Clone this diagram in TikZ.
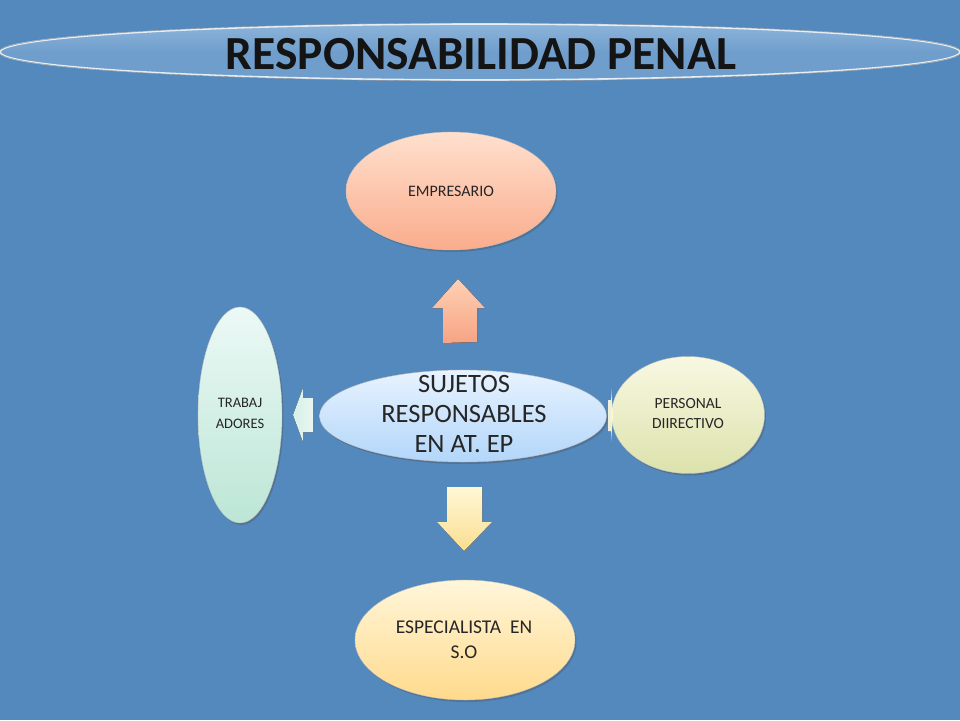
\documentclass[tikz,border=0pt]{standalone}
\usepackage{fontspec}
\setmainfont{Carlito}
\usetikzlibrary{shapes.geometric,shadows}
\definecolor{bg}{RGB}{84,137,189}
\definecolor{titlefill}{RGB}{112,158,204}
\tikzset{
  bubble/.style={ellipse, inner sep=0pt, draw=black!25, line width=0.4pt,
    drop shadow={shadow xshift=1.5pt, shadow yshift=-2pt, opacity=0.35, fill=black!70}},
  lbl/.style={align=center, text=black!85, inner sep=0pt},
}
\begin{document}
\begin{tikzpicture}[x=1pt,y=-1pt]
\useasboundingbox (0,0) rectangle (960,720);
\fill[bg] (0,0) rectangle (960,720);
% title
\node[ellipse, minimum width=960pt, minimum height=56pt, inner sep=0pt,
  top color={rgb,255:red,140;green,180;blue,218}, bottom color=titlefill, middle color=titlefill,
  draw=white!85!bg, line width=1.8pt] (title) at (480,52) {};
\draw[black!45, line width=0.4pt] (title.center) ellipse [x radius=481, y radius=29];
\node[font=\fontsize{47.5}{50}\selectfont\bfseries, text=black!92] (titletext) at (481,54) {RESPONSABILIDAD PENAL};
% bubbles
\node[bubble, minimum width=210pt, minimum height=118pt,
  top color={rgb,255:red,255;green,224;blue,206}, bottom color={rgb,255:red,250;green,172;blue,140}] (emp) at (451,191) {};
\node[lbl, font=\fontsize{16}{20}\selectfont] (empt) at (emp.center) {EMPRESARIO};
\node[bubble, minimum width=287pt, minimum height=92pt,
  top color={rgb,255:red,232;green,243;blue,255}, bottom color={rgb,255:red,178;green,214;blue,250}] (suj) at (463,416) {};
\node[lbl, font=\fontsize{26.5}{30}\selectfont] (sujt) at (464,414) {SUJETOS\\RESPONSABLES\\EN AT. EP};
\node[bubble, minimum width=84pt, minimum height=216pt,
  top color={rgb,255:red,236;green,249;blue,246}, bottom color={rgb,255:red,188;green,230;blue,214}] (trab) at (240,415) {};
\node[lbl, font=\fontsize{14.5}{21}\selectfont] (trabt) at (240,413) {TRABAJ\\ADORES};
\node[bubble, minimum width=153pt, minimum height=117pt,
  top color={rgb,255:red,248;green,248;blue,226}, bottom color={rgb,255:red,220;green,226;blue,172}] (pers) at (688,415) {};
\node[lbl, font=\fontsize{15.5}{20}\selectfont] (perst) at (688,414) {PERSONAL\\DIIRECTIVO};
\node[bubble, minimum width=220pt, minimum height=120pt,
  top color={rgb,255:red,255;green,246;blue,218}, bottom color={rgb,255:red,255;green,218;blue,140}] (esp) at (465,640) {};
\node[lbl, font=\fontsize{19.5}{25}\selectfont] (espt) at (464,640) {ESPECIALISTA\ \ EN\\S.O};
% arrows
\fill[drop shadow={shadow xshift=1pt, shadow yshift=-1.5pt, opacity=0.3},
  top color={rgb,255:red,255;green,208;blue,180}, bottom color={rgb,255:red,246;green,164;blue,132}]
  (458,279) -- (485,308) -- (477,308) -- (477,342) -- (443,343) -- (443,308) -- (432,308) -- cycle;
\fill[drop shadow={shadow xshift=1pt, shadow yshift=-1.5pt, opacity=0.3},
  top color={rgb,255:red,255;green,248;blue,214}, bottom color={rgb,255:red,250;green,222;blue,144}]
  (447,487) -- (482,487) -- (482,522) -- (492,522) -- (464,551) -- (437,522) -- (447,522) -- cycle;
\fill[drop shadow={shadow xshift=1pt, shadow yshift=-1.5pt, opacity=0.3},
  left color={rgb,255:red,214;green,240;blue,232}, right color={rgb,255:red,232;green,246;blue,240}]
  (313,398) -- (313,432) -- (303,432) -- (303,442) -- (293,415) -- (303,388) -- (303,398) -- cycle;
\fill[white!85!yellow, opacity=0.9]
  (608,400) -- (611,400) -- (611,388) -- (613,415) -- (611,442) -- (611,431) -- (608,431) -- cycle;
\end{tikzpicture}
\end{document}
